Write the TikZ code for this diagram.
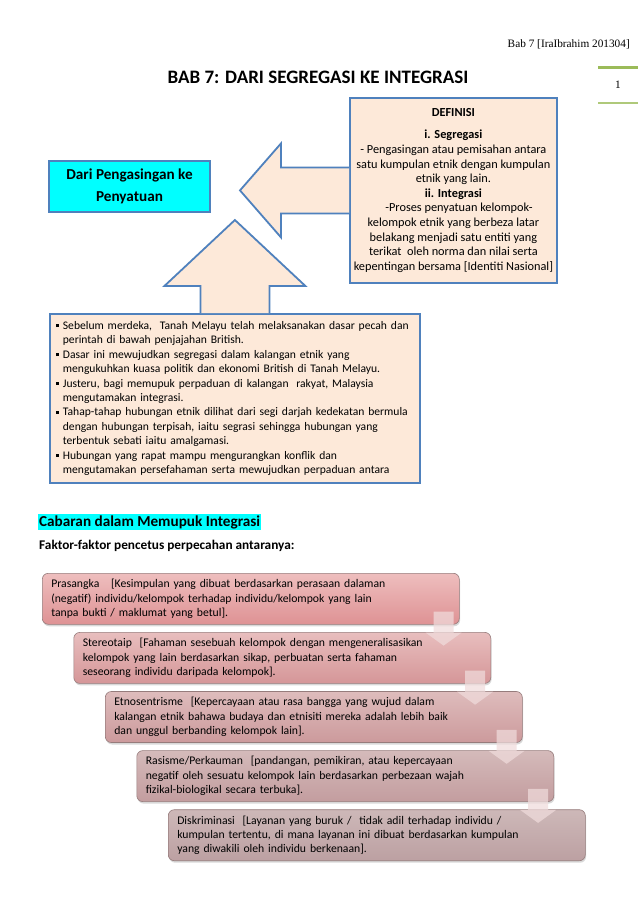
\documentclass[tikz,border=0pt]{standalone}
\usepackage{fontspec}
\setmainfont{Carlito}
\newfontfamily\serifhdr{Liberation Serif}
\usepackage{tikz}
\usetikzlibrary{positioning,calc,shadows}

\definecolor{boxblue}{RGB}{79,129,189}
\definecolor{peach}{RGB}{253,233,217}
\definecolor{brightcyan}{RGB}{0,255,255}
\definecolor{pagegreen}{RGB}{155,187,89}
\definecolor{stepline}{RGB}{150,124,124}
\definecolor{arrowpink}{RGB}{240,220,220}
\definecolor{sAtop}{RGB}{238,190,190}
\definecolor{sAbot}{RGB}{222,146,148}
\definecolor{sBtop}{RGB}{232,190,190}
\definecolor{sBbot}{RGB}{213,150,152}
\definecolor{sCtop}{RGB}{222,188,188}
\definecolor{sCbot}{RGB}{204,154,156}
\definecolor{sDtop}{RGB}{212,186,186}
\definecolor{sDbot}{RGB}{195,157,159}
\definecolor{sEtop}{RGB}{205,184,184}
\definecolor{sEbot}{RGB}{188,160,162}

\newcommand{\bodytxt}{\fontsize{11.7}{14.4}\selectfont}
\newcommand{\fbul}{\makebox[7pt][l]{\raisebox{2.2pt}{\rule{3pt}{3pt}}}}
\newcommand{\bulpad}{\hspace*{7pt}}

\begin{document}
\begin{tikzpicture}[
x=1pt,
y=-1pt,
node distance=7.5pt,
defbox/.style={
draw=boxblue,
line width=1.8pt,
fill=peach,
align=center,
font=\fontsize{12.3}{14.6}\selectfont,
inner sep=2pt,
minimum width=207pt,
minimum height=185pt
},
faktabox/.style={
draw=boxblue,
line width=1.8pt,
fill=peach,
align=left,
font=\fontsize{11.6}{14.4}\selectfont,
inner xsep=6pt,
inner ysep=5pt,
text width=358pt,
minimum height=169pt
},
cyanbox/.style={
draw=boxblue,
line width=1.8pt,
fill=brightcyan,
align=center,
font=\bfseries\fontsize{15.2}{22}\selectfont,
minimum width=161pt,
minimum height=51pt
},
blockarrow/.style={
draw=boxblue,
line width=1.8pt,
fill=peach,
line join=miter
},
stepbox/.style={
draw=stepline,
line width=0.6pt,
rounded corners=6pt,
align=left,
font=\bodytxt,
inner xsep=9pt,
text width=399pt,
minimum height=51pt,
drop shadow={shadow xshift=0.8pt,shadow yshift=-2pt,opacity=0.3}
},
steparrow/.style={
fill=arrowpink,
opacity=0.72
}
]

\useasboundingbox (0,0) rectangle (638,903);
\fill[white] (0,0) rectangle (638,903);


% Page header

\node (hdr) [anchor=east, inner sep=0pt, font=\serifhdr\fontsize{11.3}{13}\selectfont]
at (630,44) {Bab 7 [IraIbrahim 201304]};

\node (pnum) [font=\serifhdr\fontsize{11.3}{13}\selectfont] at (618,85) {1};

\draw[pagegreen, line width=3pt] (598,67) -- (638,67);
\draw[pagegreen!80, line width=2pt] (598,103) -- (638,103);

\node (titel) [font=\bfseries\fontsize{19}{22}\selectfont] at (318,77)
{BAB 7: DARI SEGREGASI KE INTEGRASI};


% Definisi

\node (definisi) [defbox, anchor=north west] at (349,97)
{
\textbf{DEFINISI}\\[8pt]
\textbf{i. Segregasi}\\
- Pengasingan atau pemisahan antara\\
satu kumpulan etnik dengan kumpulan\\
etnik yang lain.\\
\textbf{ii. Integrasi}\\
\ \ \ \ -Proses penyatuan kelompok-\\
kelompok etnik yang berbeza latar\\
belakang menjadi satu entiti yang\\
terikat\ \ oleh norma dan nilai serta\\
kepentingan bersama [Identiti Nasional]
};

\node (tajuk) [cyanbox] at (129.5,186.5)
{Dari Pengasingan ke\\Penyatuan};


% Fakta

\node (fakta) [faktabox, anchor=north west] at (49,313)
{
\fbul Sebelum merdeka,\ \ Tanah Melayu telah melaksanakan dasar pecah dan\\
\bulpad perintah di bawah penjajahan British.\\
\fbul Dasar ini mewujudkan segregasi dalam kalangan etnik yang\\
\bulpad mengukuhkan kuasa politik dan ekonomi British di Tanah Melayu.\\
\fbul Justeru, bagi memupuk perpaduan di kalangan\ \ rakyat, Malaysia\\
\bulpad mengutamakan integrasi.\\
\fbul Tahap-tahap hubungan etnik dilihat dari segi darjah kedekatan bermula\\
\bulpad dengan hubungan terpisah, iaitu segrasi sehingga hubungan yang\\
\bulpad terbentuk sebati iaitu amalgamasi.\\
\fbul Hubungan yang rapat mampu mengurangkan konflik dan\\
\bulpad mengutamakan persefahaman serta mewujudkan perpaduan antara
};


% Block arrows

\draw[blockarrow] ($(definisi.west)+(0,-23)$) -- ++(-68,0) -- ++(0,-24)
-- ($(definisi.west)+(-109,0)$) -- ++(41,47) -- ++(0,-24)
-- ($(definisi.west)+(0,23)$);

\draw[blockarrow] ($(fakta.north)+(-34.5,0)$) -- ++(0,-27) -- ++(-36,0)
-- ($(fakta.north)+(0,-93)$) -- ++(70.5,66) -- ++(-36,0)
-- ++(0,27);


% Cabaran

\node (cabaran) [anchor=west, fill=brightcyan, inner xsep=1pt, inner ysep=1.5pt, font=\bfseries\fontsize{15.2}{16}\selectfont]
at (38,522) {Cabaran dalam Memupuk Integrasi};

\node (faktor) [anchor=west, inner sep=0pt, font=\bfseries\fontsize{13.3}{15}\selectfont]
at (39,546) {Faktor-faktor pencetus perpecahan antaranya:};


% Steps

\node (s1) [stepbox, top color=sAtop, bottom color=sAbot, anchor=north west] at (42,573)
{Prasangka\ \ \ [Kesimpulan yang dibuat berdasarkan perasaan dalaman\\
(negatif) individu/kelompok terhadap individu/kelompok yang lain\\
tanpa bukti / maklumat yang betul].};

\node (s2) [stepbox, top color=sBtop, bottom color=sBbot, below right=7.5pt and 31.5pt of s1.south west]
{Stereotaip\ \ [Fahaman sesebuah kelompok dengan mengeneralisasikan\\
kelompok yang lain berdasarkan sikap, perbuatan serta fahaman\\
seseorang individu daripada kelompok].};

\node (s3) [stepbox, top color=sCtop, bottom color=sCbot, below right=7.5pt and 31.5pt of s2.south west]
{Etnosentrisme\ \ [Kepercayaan atau rasa bangga yang wujud dalam\\
kalangan etnik bahawa budaya dan etnisiti mereka adalah lebih baik\\
dan unggul berbanding kelompok lain].};

\node (s4) [stepbox, top color=sDtop, bottom color=sDbot, below right=7.5pt and 31.5pt of s3.south west]
{Rasisme/Perkauman\ \ [pandangan, pemikiran, atau kepercayaan\\
negatif oleh sesuatu kelompok lain berdasarkan perbezaan wajah\\
fizikal-biologikal secara terbuka].};

\node (s5) [stepbox, top color=sEtop, bottom color=sEbot, below right=7.5pt and 31.5pt of s4.south west]
{Diskriminasi\ \ [Layanan yang buruk /\ \ tidak adil terhadap individu /\\
kumpulan tertentu, di mana layanan ini dibuat berdasarkan kumpulan\\
yang diwakili oleh individu berkenaan].};


\foreach \hi in {s1,s2,s3,s4}
\fill[steparrow] ($(\hi.south east)+(-26,-13)$) -- ++(0,21) -- ++(-8,0)
-- ++(18,13) -- ++(18,-13) -- ++(-8,0) -- ++(0,-21) -- cycle;


\end{tikzpicture}
\end{document}
